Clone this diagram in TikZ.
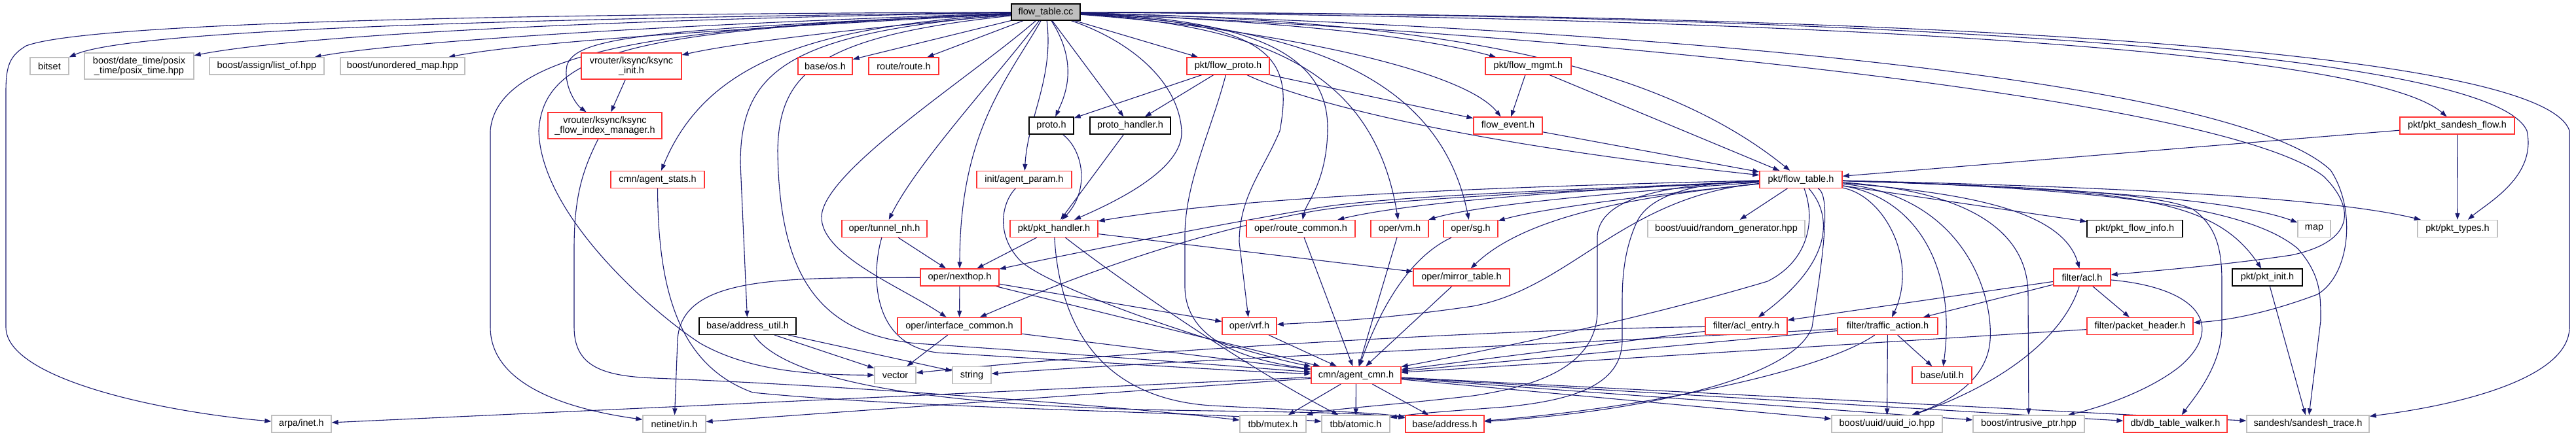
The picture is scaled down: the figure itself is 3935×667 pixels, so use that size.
\documentclass[tikz,border=0pt]{standalone}
\usepackage{fontspec}
\setmainfont{Liberation Sans}
\usetikzlibrary{arrows.meta,backgrounds}
\definecolor{edgeblue}{HTML}{191970}
\definecolor{nodered}{HTML}{FF3333}
\definecolor{nodegray}{HTML}{BFBFBF}
\newcommand\nodefont{\fontsize{14.5}{15}\selectfont}
\tikzset{
  nbase/.style={draw, fill=white, line width=1.3pt, minimum height=26pt, inner sep=0pt, font=\nodefont, text=black, align=center},
  redn/.style={nbase, draw=nodered},
  grayn/.style={nbase, draw=nodegray},
  blackn/.style={nbase, draw=black},
  twoline/.style={minimum height=40pt},
  edgeln/.style={draw=edgeblue, line width=1.1pt, -{Triangle[length=10pt,width=7pt]}},
}
\begin{document}
\begin{tikzpicture}[x=1pt,y=-1pt]
\useasboundingbox (0,0) rectangle (3935,667);
% row 0
\node[nbase, fill=nodegray, draw=black, minimum width=105pt, minimum height=25pt] (F) at (1597.5,18.5) {flow\_table.cc};
% row 1
\node[grayn, minimum width=59pt] (bitset) at (75.5,101) {bitset};
\node[grayn, twoline, minimum width=167pt] (posix) at (212.5,101) {boost/date\_time/posix\\\_time/posix\_time.hpp};
\node[grayn, minimum width=175pt] (listof) at (407.5,101) {boost/assign/list\_of.hpp};
\node[grayn, minimum width=190pt] (umap) at (615,101) {boost/unordered\_map.hpp};
\node[redn, twoline, minimum width=153pt] (ksinit) at (964.5,101) {vrouter/ksync/ksync\\\_init.h};
\node[redn, minimum width=83pt] (os) at (1260.5,101) {base/os.h};
\node[redn, minimum width=107pt] (route) at (1380.5,101) {route/route.h};
\node[redn, minimum width=126pt] (flowproto) at (1876,101) {pkt/flow\_proto.h};
\node[redn, minimum width=131pt] (flowmgmt) at (2334.5,101) {pkt/flow\_mgmt.h};
% row 2
\node[redn, twoline, minimum width=174pt] (ksfim) at (924,192) {vrouter/ksync/ksync\\\_flow\_index\_manager.h};
\node[blackn, minimum width=68pt] (proto) at (1606,192) {proto.h};
\node[blackn, minimum width=123pt] (protoh) at (1726.5,192) {proto\_handler.h};
\node[redn, minimum width=105pt] (flowevent) at (2303.5,192) {flow\_event.h};
\node[redn, minimum width=175pt] (sandeshflow) at (3753.5,192) {pkt/pkt\_sandesh\_flow.h};
% row 3
\node[redn, minimum width=143pt] (agentstats) at (1004.5,274.5) {cmn/agent\_stats.h};
\node[redn, minimum width=145pt] (agentparam) at (1564.5,274.5) {init/agent\_param.h};
\node[redn, minimum width=126pt] (FT) at (2751,274.5) {pkt/flow\_table.h};
% row 4
\node[redn, minimum width=130pt] (tunnelnh) at (1351,349.5) {oper/tunnel\_nh.h};
\node[redn, minimum width=134pt] (pkthandler) at (1610,349.5) {pkt/pkt\_handler.h};
\node[redn, minimum width=166pt] (routecommon) at (1987,349.5) {oper/route\_common.h};
\node[redn, minimum width=88pt] (vm) at (2138,349.5) {oper/vm.h};
\node[redn, minimum width=83pt] (sg) at (2246.5,349.5) {oper/sg.h};
\node[grayn, minimum width=240pt] (randgen) at (2637,349.5) {boost/uuid/random\_generator.hpp};
\node[blackn, minimum width=146pt] (pktflowinfo) at (3261,349.5) {pkt/pkt\_flow\_info.h};
\node[grayn, minimum width=50pt] (map) at (3535,349.5) {map};
\node[grayn, minimum width=122pt] (pkttypes) at (3754,349.5) {pkt/pkt\_types.h};
% row 5
\node[redn, minimum width=120pt] (nexthop) at (1466,424) {oper/nexthop.h};
\node[redn, minimum width=147pt] (mirror) at (2232.5,424) {oper/mirror\_table.h};
\node[redn, minimum width=87pt] (acl) at (3180.5,424) {filter/acl.h};
\node[blackn, minimum width=107pt] (pktinit) at (3463.5,424) {pkt/pkt\_init.h};
% row 6
\node[blackn, minimum width=148pt] (addrutil) at (1142,498.5) {base/address\_util.h};
\node[redn, minimum width=189pt] (ifcommon) at (1465.5,498.5) {oper/interface\_common.h};
\node[redn, minimum width=83pt] (vrf) at (1908.5,498.5) {oper/vrf.h};
\node[redn, minimum width=125pt] (aclentry) at (2667.5,498.5) {filter/acl\_entry.h};
\node[redn, minimum width=153pt] (traffic) at (2883.5,498.5) {filter/traffic\_action.h};
\node[redn, minimum width=162pt] (pkthdr) at (3269,498.5) {filter/packet\_header.h};
% row 7
\node[grayn, minimum width=63pt] (vector) at (1367.5,573.5) {vector};
\node[grayn, minimum width=59pt] (string) at (1484.5,573.5) {string};
\node[redn, minimum width=137pt] (agentcmn) at (2071.5,573.5) {cmn/agent\_cmn.h};
\node[redn, minimum width=91pt] (util) at (2966.5,573.5) {base/util.h};
% row 8
\node[grayn, minimum width=91pt] (arpa) at (460.5,648) {arpa/inet.h};
\node[grayn, minimum width=96pt] (netinet) at (1030,648) {netinet/in.h};
\node[grayn, minimum width=101pt] (mutex) at (1944.5,648) {tbb/mutex.h};
\node[grayn, minimum width=104pt] (atomic) at (2071,648) {tbb/atomic.h};
\node[redn, minimum width=120pt] (address) at (2207,648) {base/address.h};
\node[grayn, minimum width=169pt] (uuidio) at (2882.5,648) {boost/uuid/uuid\_io.hpp};
\node[grayn, minimum width=170pt] (intrusive) at (3099,648) {boost/intrusive\_ptr.hpp};
\node[redn, minimum width=158pt] (dbwalker) at (3323,648) {db/db\_table\_walker.h};
\node[grayn, minimum width=187pt] (sandeshtrace) at (3525.5,648) {sandesh/sandesh\_trace.h};

\begin{pgfonlayer}{background}
% ---- from flow_table.cc
\draw[edgeln] (F) .. controls (800,28) and (200,45) .. (bitset);
\draw[edgeln] (F) .. controls (900,30) and (450,55) .. (posix);
\draw[edgeln] (F) .. controls (1000,38) and (600,65) .. (listof);
\draw[edgeln] (F) .. controls (1100,45) and (800,65) .. (umap);
\draw[edgeln] (F) .. controls (600,22) and (120,40) .. (40,70) .. controls (15,85) and (9,100) .. (9,140) -- (9,500) .. controls (9,580) and (250,630) .. (arpa);
\draw[edgeln] (F) .. controls (1100,40) and (760,60) .. (749,200) -- (749,500) .. controls (749,600) and (900,630) .. (netinet);
\draw[edgeln] (F) .. controls (1000,45) and (830,70) .. (823,200) .. controls (826,330) and (1000,480) .. (1070,525) .. controls (1150,570) and (1250,573) .. (vector);
\draw[edgeln] (F) .. controls (1400,35) and (1150,60) .. (ksinit);
\draw[edgeln] (F) .. controls (1000,45) and (880,55) .. (866,100) .. controls (860,130) and (880,160) .. (ksfim);
\draw[edgeln] (F) -- (os);
\draw[edgeln] (F) -- (route);
\draw[edgeln] (F) .. controls (1250,40) and (1080,90) .. (agentstats);
\draw[edgeln] (F) .. controls (1200,50) and (1131,110) .. (1131,250) -- (addrutil);
\draw[edgeln] (F) .. controls (1520,120) and (1400,250) .. (tunnelnh);
\draw[edgeln] (F) .. controls (1250,55) and (1190,110) .. (1188,230) .. controls (1190,420) and (1250,510) .. (1400,525) .. controls (1700,545) and (1950,565) .. (agentcmn);
\draw[edgeln] (F) .. controls (1480,120) and (1260,260) .. (1255,330) .. controls (1252,390) and (1380,440) .. (ifcommon);
\draw[edgeln] (F) .. controls (1540,120) and (1466,200) .. (nexthop);
\draw[edgeln] (F) .. controls (1610,120) and (1570,180) .. (agentparam);
\draw[edgeln] (F) .. controls (1650,100) and (1625,150) .. (proto);
\draw[edgeln] (F) -- (protoh);
\draw[edgeln] (F) .. controls (1720,60) and (1800,120) .. (1805,200) .. controls (1808,260) and (1700,310) .. (pkthandler);
\draw[edgeln] (F) -- (flowproto);
\draw[edgeln] (F) .. controls (1950,35) and (1975,90) .. (1955,200) .. controls (1930,260) and (1893,300) .. (1893,370) -- (vrf);
\draw[edgeln] (F) .. controls (1950,30) and (2030,100) .. (2028,200) .. controls (2026,280) and (1995,310) .. (routecommon);
\draw[edgeln] (F) .. controls (1900,30) and (2150,50) .. (flowmgmt);
\draw[edgeln] (F) .. controls (1900,40) and (2230,100) .. (flowevent);
\draw[edgeln] (F) .. controls (1950,40) and (2100,120) .. (vm);
\draw[edgeln] (F) .. controls (2000,40) and (2200,120) .. (sg);
\draw[edgeln] (F) .. controls (2100,30) and (2500,70) .. (FT);
\draw[edgeln] (F) .. controls (2500,25) and (3600,60) .. (sandeshflow);
\draw[edgeln] (F) .. controls (2600,20) and (3800,60) .. (3860,200) .. controls (3875,270) and (3800,310) .. (pkttypes);
\draw[edgeln] (F) .. controls (2700,20) and (3880,60) .. (3925,200) -- (3925,500) .. controls (3925,580) and (3750,620) .. (sandeshtrace);
\draw[edgeln] (F) .. controls (2400,50) and (3400,150) .. (3550,270) .. controls (3600,320) and (3595,370) .. (3500,390) .. controls (3400,405) and (3280,415) .. (acl);
\draw[edgeln] (F) .. controls (2400,40) and (3400,110) .. (3560,260) .. controls (3600,320) and (3590,420) .. (3540,450) .. controls (3460,480) and (3400,490) .. (pkthdr);
% ---- from pkt/flow_table.h
\draw[edgeln] (FT) .. controls (2300,285) and (1900,300) .. (pkthandler);
\draw[edgeln] (FT) .. controls (2400,290) and (2150,310) .. (routecommon);
\draw[edgeln] (FT) .. controls (2450,295) and (2250,315) .. (vm);
\draw[edgeln] (FT) .. controls (2500,300) and (2350,320) .. (sg);
\draw[edgeln] (FT) .. controls (2400,290) and (2100,300) .. (2000,320) .. controls (1850,345) and (1650,385) .. (nexthop);
\draw[edgeln] (FT) .. controls (2400,292) and (2100,305) .. (2000,324) .. controls (1800,360) and (1600,440) .. (ifcommon);
\draw[edgeln] (FT) .. controls (2480,300) and (2400,440) .. (2250,468) .. controls (2100,490) and (2000,493) .. (vrf);
\draw[edgeln] (FT) .. controls (2500,300) and (2330,330) .. (mirror);
\draw[edgeln] (FT) -- (randgen);
\draw[edgeln] (FT) -- (pktflowinfo);
\draw[edgeln] (FT) .. controls (3100,285) and (3400,300) .. (map);
\draw[edgeln] (FT) .. controls (3200,285) and (3550,300) .. (pkttypes);
\draw[edgeln] (FT) .. controls (3000,295) and (3150,320) .. (acl);
\draw[edgeln] (FT) .. controls (3250,290) and (3380,300) .. (pktinit);
\draw[edgeln] (FT) .. controls (2800,330) and (2800,400) .. (aclentry);
\draw[edgeln] (FT) .. controls (2880,300) and (2930,400) .. (traffic);
\draw[edgeln] (FT) .. controls (2920,300) and (2990,400) .. (util);
\draw[edgeln] (FT) .. controls (2775,340) and (2760,400) .. (2700,430) .. controls (2500,490) and (2250,540) .. (agentcmn);
\draw[edgeln] (FT) .. controls (2550,282) and (2445,300) .. (2440,360) -- (2440,480) .. controls (2435,560) and (2350,590) .. (2250,605) .. controls (2120,620) and (2030,625) .. (mutex);
\draw[edgeln] (FT) .. controls (2600,278) and (2520,295) .. (2500,340) .. controls (2482,380) and (2478,420) .. (2478,460) -- (2478,520) .. controls (2478,590) and (2400,612) .. (2300,622) .. controls (2220,628) and (2160,632) .. (atomic);
\draw[edgeln] (FT) .. controls (2800,300) and (2780,420) .. (2768,500) .. controls (2740,580) and (2500,630) .. (address);
\draw[edgeln] (FT) .. controls (3000,300) and (3045,450) .. (3040,520) .. controls (3035,590) and (2960,620) .. (uuidio);
\draw[edgeln] (FT) .. controls (3050,295) and (3098,380) .. (3098,450) -- (intrusive);
\draw[edgeln] (FT) .. controls (3100,285) and (3300,295) .. (3350,320) .. controls (3385,345) and (3394,380) .. (3394,430) -- (3394,500) .. controls (3394,560) and (3350,610) .. (dbwalker);
\draw[edgeln] (FT) .. controls (3300,290) and (3450,330) .. (3510,380) .. controls (3545,420) and (3545,450) .. (3545,490) -- (sandeshtrace);
% ---- others
\draw[edgeln] (ksinit) -- (ksfim);
\draw[edgeln] (ksfim) .. controls (890,260) and (877,300) .. (877,380) -- (877,500) .. controls (877,560) and (920,575) .. (1000,578) .. controls (1300,590) and (1700,620) .. (mutex);
\draw[edgeln] (agentstats) .. controls (1005,450) and (1040,560) .. (1150,600) .. controls (1400,625) and (1800,628) .. (atomic);
\draw[edgeln] (flowproto) -- (proto);
\draw[edgeln] (flowproto) -- (protoh);
\draw[edgeln] (flowproto) -- (flowevent);
\draw[edgeln] (flowproto) .. controls (1980,150) and (2200,215) .. (FT);
\draw[edgeln] (flowproto) .. controls (1850,200) and (1810,280) .. (1810,360) -- (1810,440) .. controls (1812,520) and (1900,550) .. (agentcmn);
\draw[edgeln] (flowmgmt) -- (flowevent);
\draw[edgeln] (flowmgmt) -- (FT);
\draw[edgeln] (flowevent) -- (FT);
\draw[edgeln] (sandeshflow) -- (FT);
\draw[edgeln] (sandeshflow) -- (pkttypes);
\draw[edgeln] (proto) .. controls (1655,230) and (1665,290) .. (pkthandler);
\draw[edgeln] (protoh) -- (pkthandler);
\draw[edgeln] (agentparam) .. controls (1530,310) and (1520,360) .. (1560,400) .. controls (1620,450) and (1900,540) .. (agentcmn);
\draw[edgeln] (tunnelnh) -- (nexthop);
\draw[edgeln] (tunnelnh) .. controls (1330,420) and (1330,540) .. (1450,540) .. controls (1700,555) and (1900,568) .. (agentcmn);
\draw[edgeln] (pkthandler) -- (nexthop);
\draw[edgeln] (pkthandler) -- (mirror);
\draw[edgeln] (pkthandler) .. controls (1700,420) and (1900,560) .. (atomic);
\draw[edgeln] (pkthandler) .. controls (1620,520) and (1700,610) .. (1850,620) .. controls (2000,628) and (2100,630) .. (address);
\draw[edgeln] (nexthop) -- (ifcommon);
\draw[edgeln] (nexthop) -- (vrf);
\draw[edgeln] (nexthop) -- (agentcmn);
\draw[edgeln] (nexthop) .. controls (1200,425) and (1040,420) .. (1035,520) -- (netinet);
\draw[edgeln] (ifcommon) -- (vector);
\draw[edgeln] (ifcommon) -- (agentcmn);
\draw[edgeln] (addrutil) -- (vector);
\draw[edgeln] (addrutil) -- (string);
\draw[edgeln] (addrutil) .. controls (1220,610) and (1600,625) .. (1850,628) .. controls (2000,630) and (2100,632) .. (address);
\draw[edgeln] (vrf) -- (agentcmn);
\draw[edgeln] (routecommon) -- (agentcmn);
\draw[edgeln] (vm) -- (agentcmn);
\draw[edgeln] (sg) .. controls (2170,385) and (2120,440) .. (agentcmn);
\draw[edgeln] (mirror) -- (agentcmn);
\draw[edgeln] (aclentry) -- (agentcmn);
\draw[edgeln] (aclentry) .. controls (2200,505) and (1600,548) .. (vector);
\draw[edgeln] (traffic) .. controls (2500,520) and (1800,550) .. (string);
\draw[edgeln] (traffic) -- (agentcmn);
\draw[edgeln] (traffic) -- (util);
\draw[edgeln] (traffic) -- (uuidio);
\draw[edgeln] (traffic) .. controls (2780,570) and (2500,625) .. (address);
\draw[edgeln] (acl) -- (aclentry);
\draw[edgeln] (acl) -- (traffic);
\draw[edgeln] (acl) -- (pkthdr);
\draw[edgeln] (acl) .. controls (3360,440) and (3400,500) .. (3330,560) .. controls (3280,600) and (3200,625) .. (intrusive);
\draw[edgeln] (acl) .. controls (3150,520) and (3050,590) .. (uuidio);
\draw[edgeln] (pkthdr) -- (agentcmn);
\draw[edgeln] (pktinit) -- (sandeshtrace);
\draw[edgeln] (agentcmn) -- (arpa);
\draw[edgeln] (agentcmn) -- (netinet);
\draw[edgeln] (agentcmn) -- (mutex);
\draw[edgeln] (agentcmn) -- (atomic);
\draw[edgeln] (agentcmn) -- (address);
\draw[edgeln] (agentcmn) -- (uuidio);
\draw[edgeln] (agentcmn) -- (intrusive);
\draw[edgeln] (agentcmn) -- (dbwalker);
\draw[edgeln] (agentcmn) -- (sandeshtrace);
\end{pgfonlayer}
\end{tikzpicture}
\end{document}
